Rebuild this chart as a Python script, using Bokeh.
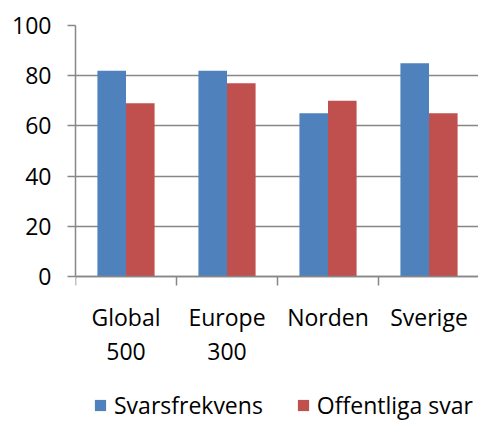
import numpy as np
from bokeh.plotting import figure
from bokeh.models import Range1d, FixedTicker, Legend, LegendItem
from bokeh.embed import file_html
from bokeh.resources import INLINE

categories = ["Global\n500", "Europe\n300", "Norden", "Sverige"]
svarsfrekvens = [82, 82, 65, 85]
offentliga = [69, 77, 70, 65]
y_ticks = [0, 20, 40, 60, 80, 100]
series_names = ["Svarsfrekvens", "Offentliga svar"]
colors = ["#4F81BD", "#C0504D"]

FONT = "Open Sans"
GRAY = "#878787"

# frame reaches the bottom of the picture; the value axis spans 0..100
p = figure(width=478, height=421, output_backend="svg", toolbar_location=None,
           x_range=Range1d(0, 3.99), y_range=Range1d(-57.77, 100),
           min_border_left=75, min_border_right=0, min_border_top=25,
           min_border_bottom=0)
p.outline_line_color = None

idx = np.arange(len(categories))
centers = idx + 0.5
bw = 0.283
r1 = p.vbar(x=centers - bw / 2, top=svarsfrekvens, width=bw, color=colors[0], line_color=None)
r2 = p.vbar(x=centers + bw / 2, top=offentliga, width=bw, color=colors[1], line_color=None)

# y axis
p.yaxis.ticker = FixedTicker(ticks=y_ticks)
p.yaxis.bounds = (y_ticks[0], y_ticks[-1])
p.yaxis.axis_line_color = GRAY
p.yaxis.axis_line_width = 1.5
p.yaxis.major_tick_line_color = GRAY
p.yaxis.major_tick_line_width = 1.5
p.yaxis.major_tick_out = 8
p.yaxis.major_tick_in = 0
p.yaxis.minor_tick_line_color = None
p.yaxis.major_label_text_font = FONT
p.yaxis.major_label_text_font_size = "23px"
p.yaxis.major_label_text_color = "#000000"
p.yaxis.major_label_standoff = 16

# x axis, pinned at value 0
p.xaxis.fixed_location = 0
p.xaxis.ticker = FixedTicker(ticks=list(centers), minor_ticks=list(np.arange(len(categories) + 1)))
p.xaxis.major_label_overrides = {float(c): lab for c, lab in zip(centers, categories)}
p.xaxis.axis_line_color = GRAY
p.xaxis.axis_line_width = 1.5
p.xaxis.major_tick_line_color = None
p.xaxis.minor_tick_line_color = GRAY
p.xaxis.minor_tick_line_width = 1.5
p.xaxis.minor_tick_out = 9
p.xaxis.minor_tick_in = 0
p.xaxis.major_label_text_font = FONT
p.xaxis.major_label_text_font_size = "23px"
p.xaxis.major_label_text_color = "#000000"
p.xaxis.major_label_text_line_height = 1.05
p.xaxis.major_label_standoff = 16

p.xgrid.grid_line_color = None
p.ygrid.grid_line_color = GRAY
p.ygrid.grid_line_width = 1.5

legend = Legend(items=[LegendItem(label=series_names[0], renderers=[r1]),
                       LegendItem(label=series_names[1], renderers=[r2])],
                orientation="horizontal", location=(18, 0),
                glyph_width=14, glyph_height=14, label_standoff=7, spacing=33,
                padding=0, margin=0, border_line_color=None,
                background_fill_alpha=0, label_text_font=FONT,
                label_text_color="#000000",
                label_text_font_size="23px", label_height=20)
p.add_layout(legend, "center")

open("out.html", "w").write(file_html(p, INLINE))
